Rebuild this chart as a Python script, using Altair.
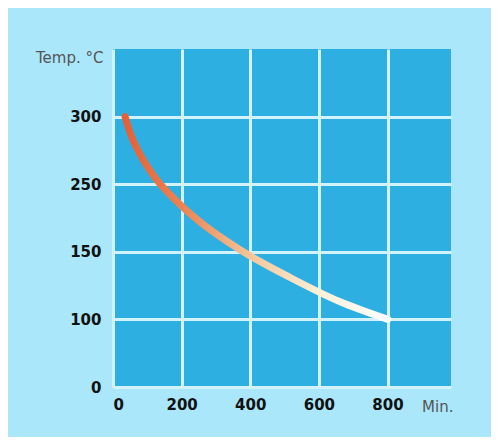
import altair as alt
import pandas as pd

# Cooling curve
minutes = [35, 50, 79, 122, 181, 254, 370, 516, 662, 801]
temp_c = [300, 288, 272, 255, 227, 194, 153, 131, 113, 100]

x_ticks = [0, 200, 400, 600, 800]
y_ticks = [0, 100, 150, 250, 300]
y_domain = [0, 100, 150, 250, 300, 350]

df = pd.DataFrame({"min": minutes, "temp": temp_c})

W, H = 338, 338
step = H / 5

line = alt.Chart(df).mark_line(
    strokeWidth=7,
    strokeCap="round",
    interpolate="monotone",
    color=alt.Gradient(
        gradient="linear",
        stops=[
            alt.GradientStop(color="#e3603a", offset=0),
            alt.GradientStop(color="#ec8452", offset=0.22),
            alt.GradientStop(color="#f4c69c", offset=0.48),
            alt.GradientStop(color="#fbefd6", offset=0.73),
            alt.GradientStop(color="#ffffff", offset=1),
        ],
        x1=0, y1=0, x2=1, y2=0,
    ),
).encode(
    x=alt.X(
        "min:Q",
        scale=alt.Scale(domain=[0, 985], nice=False, zero=False),
        axis=alt.Axis(
            values=x_ticks,
            title="Min.",
            titleX=340,
            titleY=12,
            titleAlign="right",
            titleBaseline="top",
            titleAnchor="end",
        ),
    ),
    y=alt.Y(
        "temp:Q",
        scale=alt.Scale(
            domain=y_domain,
            range=[H, H - step, H - 2 * step, H - 3 * step, H - 4 * step, 0],
        ),
        axis=alt.Axis(
            values=y_ticks,
            title="Temp. °C",
            titleAngle=0,
            titleX=-10,
            titleY=8,
            titleAlign="right",
            titleBaseline="middle",
        ),
    ),
    order=alt.Order("min:Q"),
)

chart = line.properties(
    width=W,
    height=H,
    autosize=alt.AutoSizeParams(type="none"),
    padding={"left": 105, "top": 41, "right": 40, "bottom": 50},
    background="#abe7fa",
).configure_view(
    fill="#2eafe2",
    stroke=None,
).configure_axis(
    grid=True,
    gridColor="#d2f2fc",
    gridWidth=3,
    gridOpacity=1,
    domain=False,
    ticks=False,
    labelFont="DejaVu Sans",
    labelFontWeight="bold",
    labelFontSize=15,
    labelColor="#111111",
    titleFont="DejaVu Sans",
    titleFontWeight="normal",
    titleFontSize=15,
    titleColor="#555555",
).configure_axisX(
    labelPadding=10,
).configure_axisY(
    labelPadding=12,
    labelBaseline="middle",
)

chart.save("out.html", embed_options={"renderer": "svg", "actions": False})
